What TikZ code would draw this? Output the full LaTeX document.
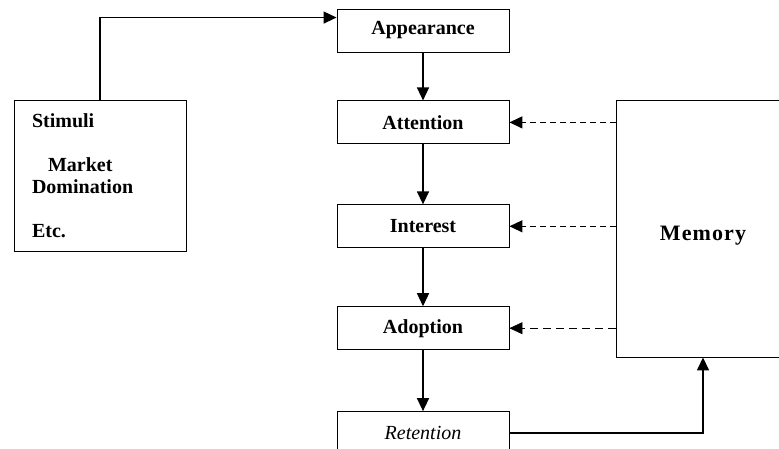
\documentclass[tikz,border=0pt]{standalone}
\usepackage{fontspec}
\setmainfont{Liberation Serif}
\usetikzlibrary{arrows.meta, positioning}
\tikzset{
  stage/.style={rectangle, draw, line width=0.9pt, minimum width=172pt,
                minimum height=43pt, inner sep=0pt,
                font=\fontsize{20}{22}\selectfont\bfseries},
  cue/.style={rectangle, draw, line width=0.9pt, minimum height=151pt,
              text width=136pt, inner xsep=18pt, align=left,
              font=\fontsize{20}{22}\selectfont\bfseries},
  store/.style={rectangle, draw, line width=0.9pt, minimum width=174pt,
                minimum height=257pt, text height=30pt, text depth=6pt,
                font=\fontsize{22}{26}\selectfont\bfseries\addfontfeatures{LetterSpace=5}},
  arr/.style={-{Triangle[length=13pt,width=12pt]}, line width=1.4pt},
  recall/.style={arr, dash pattern=on 6pt off 4pt},
}

\begin{document}
\begin{tikzpicture}[x=1pt, y=1pt]
  \clip (0,0) rectangle (779,449);

  \node[stage]                  (app) at (423,418.5) {Appearance};
  \node[stage, below=48pt of app] (att) {Attention};
  \node[stage, below=60pt of att] (int) {Interest};
  \node[stage, below=58pt of int] (ado) {Adoption};
  \node[stage, below=61pt of ado, font=\fontsize{20}{22}\selectfont\itshape] (ret) {Retention};

  \node[cue]   (stim) at (100,273.5) {Stimuli\\[22pt]\hspace*{16pt}Market\\Domination\\[22pt]Etc.};
  \node[store] (mem)  at (703,220.5) {Memory};

  \coordinate (appin) at ([yshift=-9pt]app.north west);

  \draw[arr] (stim.north) |- (appin);
  \draw[arr] (app) -- (att);
  \draw[arr] (att) -- (int);
  \draw[arr] (int) -- (ado);
  \draw[arr] (ado) -- (ret);
  \draw[arr] (ret.east) -| (mem.south);

  \draw[recall] (mem.west |- att.east) -- (att.east);
  \draw[recall] (mem.west |- int.east) -- (int.east);
  \draw[recall, line width=0.7pt, dash pattern=on 8pt off 5pt] (mem.west |- ado.east) -- (ado.east);
\end{tikzpicture}
\end{document}
